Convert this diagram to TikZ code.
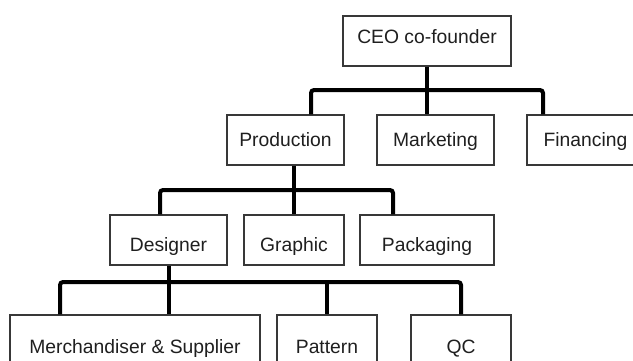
\documentclass[tikz,border=0pt]{standalone}
\usepackage{fontspec}
\setmainfont{Liberation Sans}
\begin{document}
\begin{tikzpicture}[x=1pt,y=-1pt,
  box/.style={draw=black!78, line width=1.3pt, rectangle, inner sep=0pt,
    minimum height=50pt, text=black!88,
    font=\fontsize{19.3}{23}\selectfont},
  % vertical placement of the label inside its box
  lift/.style 2 args={text height=#1, text depth=#2},
  conn/.style={draw=black, line width=4pt, rounded corners=3pt}]
\useasboundingbox (0,0) rectangle (633,360);
\clip (0,0) rectangle (633,360);
\fill[white] (0,0) rectangle (633,360);

% top level
\node[box, lift={13.8pt}{8pt}, minimum width=168pt] (ceo) at (427,41) {CEO co-founder};
% second level
\node[box, lift={13.8pt}{0pt}, minimum width=117pt] (prod) at (285.5,140) {Production};
\node[box, lift={13.8pt}{0pt}, minimum width=117pt] (mkt) at (435.5,140) {Marketing};
\node[box, lift={13.8pt}{0pt}, minimum width=117pt] (fin) at (585.5,140) {Financing};
% third level
\node[box, lift={22.8pt}{0pt}, minimum width=117pt] (des) at (168.5,240) {Designer};
\node[box, lift={22.8pt}{0pt}, minimum width=100pt] (gra) at (294,240) {Graphic};
\node[box, lift={22.8pt}{0pt}, minimum width=134pt] (pack) at (427,240) {Packaging};
% fourth level
\node[box, lift={17.2pt}{0pt}, minimum width=250pt, minimum height=60pt] (mer) at (135,345) {Merchandiser \& Supplier};
\node[box, lift={17.2pt}{0pt}, minimum width=100pt, minimum height=60pt] (pat) at (327,345) {Pattern};
\node[box, lift={17.2pt}{0pt}, minimum width=100pt, minimum height=60pt] (qc) at (461,345) {QC};

% junction points of the horizontal bars
\coordinate (a1) at (311,90);
\coordinate (a2) at (543,90);
\coordinate (b1) at (160,190);
\coordinate (b2) at (393,190);
\coordinate (c1) at (60,282);
\coordinate (c2) at (461,282);
\coordinate (c4) at (327,282);

% CEO to second level
\draw[conn] (prod.north -| a1) -- (a1) -- (a2) -- (fin.north -| a2);
\draw[conn] (ceo.south) -- (ceo.south |- mkt.north);
% Production to third level
\draw[conn] (des.north -| b1) -- (b1) -- (b2) -- (pack.north -| b2);
\draw[conn] (prod.south -| gra.north) -- (gra.north);
% Designer to fourth level
\draw[conn] (mer.north -| c1) -- (c1) -- (c2) -- (qc.north);
\draw[conn] (des.south) -- (mer.north -| des.south);
\draw[conn] (c4) -- (pat.north);
\end{tikzpicture}
\end{document}
